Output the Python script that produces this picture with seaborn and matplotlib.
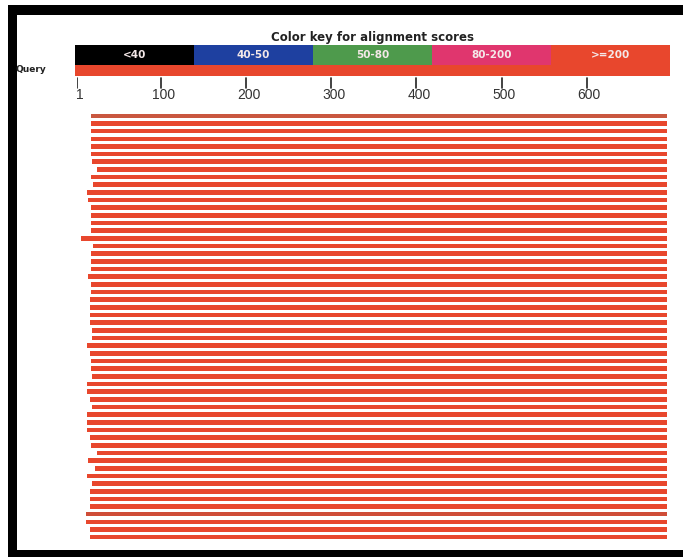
import matplotlib
matplotlib.use("Agg")
import matplotlib.pyplot as plt
import seaborn as sns
from matplotlib.patches import Rectangle

# BLAST-style graphic summary: query coverage by hits
query_len = 698
key_labels = ["<40", "40-50", "50-80", "80-200", ">=200"]
key_colors = ["#000000", "#1e40a0", "#4e9a4c", "#e0366e", "#e8472d"]
tick_pos = [1, 100, 200, 300, 400, 500, 600]

hit_start = [17, 17, 17, 17, 17, 17, 19, 24, 17, 20, 13, 14, 17, 17, 17, 17,
             6, 20, 17, 17, 17, 14, 17, 17, 16, 16, 16, 16, 19, 19, 13, 16,
             17, 17, 19, 13, 13, 16, 19, 13, 13, 13, 16, 17, 24, 14, 22, 13,
             19, 16, 16, 16, 12, 12, 16, 16]
hit_end = [695] * len(hit_start)
hit_score = [">=200"] * len(hit_start)

sns.set_style("white")
plt.rcParams['font.family'] = ['Liberation Sans', 'DejaVu Sans']

W, H = 683, 557
fig = plt.figure(figsize=(W / 100, H / 100), dpi=100)

def px_axes(x0, y0, x1, y1):
    return fig.add_axes([x0 / W, 1 - y1 / H, (x1 - x0) / W, (y1 - y0) / H])

# header: color key, query bar, ruler
hx = px_axes(77, 25, 670, 108)
hx.set_xlim(1, query_len)
hx.set_ylim(108, 25)
hx.axis("off")
left = -1.3
edges = [left + i * (query_len - left) / len(key_labels) for i in range(len(key_labels) + 1)]
for i, (lab, col) in enumerate(zip(key_labels, key_colors)):
    hx.add_patch(Rectangle((edges[i], 45), edges[i + 1] - edges[i], 19.5,
                           color=col, clip_on=False, lw=0))
    hx.text((edges[i] + edges[i + 1]) / 2, 54.5, lab, color="#f4e8e8",
            ha="center", va="center", fontsize=7.5, fontweight="bold",
            family="DejaVu Sans")
hx.add_patch(Rectangle((left, 64.5), query_len - left, 11.5, color=key_colors[-1],
                       clip_on=False, lw=0))
hx.text((left + query_len) / 2, 37, "Color key for alignment scores",
        ha="center", va="center", fontsize=8.5, fontweight="bold", color="#222222",
        family="DejaVu Sans")
for t in tick_pos:
    hx.plot([t, t], [78, 88], color="#222222", lw=1.2)
    hx.text(t + 3, 95, str(t), ha="center", va="center", fontsize=10, color="#333333")
fig.text(15 / W, 1 - 70 / H, "Query", ha="left", va="center", fontsize=6.5,
         fontweight="bold", color="#222222", family="DejaVu Sans")

# hits
ax = px_axes(77, 112, 670, 541)
n = len(hit_start)
ys = list(range(n))
widths = [e - s for s, e in zip(hit_start, hit_end)]
colors = [key_colors[key_labels.index(s)] for s in hit_score]
colors[0] = "#c9573f"
colors[52] = "#cf4d37"
ax.barh(ys, widths, left=hit_start, height=0.6, color=colors, lw=0)
ax.set_xlim(1, query_len)
ax.set_ylim(n - 0.5, -0.5)
ax.axis("off")

# black frame of the screenshot
for (x0, y0, x1, y1) in [(8, 5, W, 15), (8, 5, 17, H), (8, 550, W, H)]:
    fig.add_artist(Rectangle((x0 / W, 1 - y1 / H), (x1 - x0) / W, (y1 - y0) / H,
                             transform=fig.transFigure, color="black", lw=0))

fig.savefig("out.png", dpi=100)
